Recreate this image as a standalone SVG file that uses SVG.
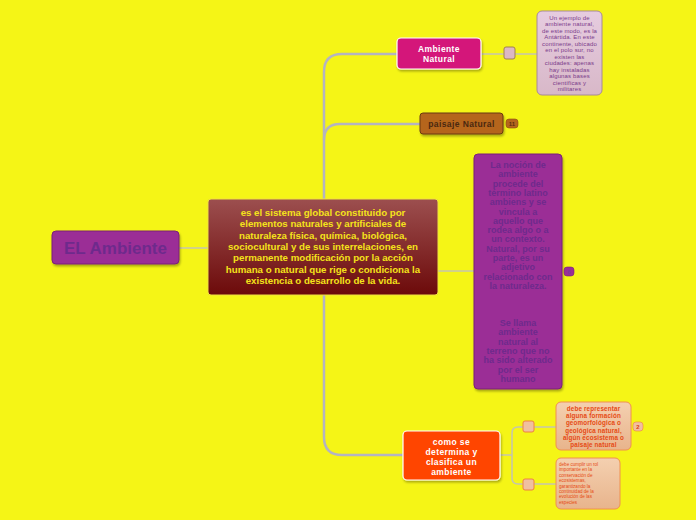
<svg xmlns="http://www.w3.org/2000/svg" width="696" height="520" viewBox="0 0 696 520">
<defs>
<linearGradient id="gCentral" x1="0" y1="0" x2="0" y2="1"><stop offset="0" stop-color="#9c4f4f"/><stop offset="1" stop-color="#6c0a0a"/></linearGradient>
<linearGradient id="gNote" x1="0" y1="0" x2="0" y2="1"><stop offset="0" stop-color="#e6cce0"/><stop offset="1" stop-color="#d8b8c8"/></linearGradient>
<linearGradient id="gOrange" x1="0" y1="0" x2="0" y2="1"><stop offset="0" stop-color="#f4d0b0"/><stop offset="1" stop-color="#e8b48c"/></linearGradient>
<filter id="sh" x="-10%" y="-10%" width="130%" height="130%"><feDropShadow dx="1" dy="2" stdDeviation="1" flood-color="#000" flood-opacity="0.3"/></filter>
</defs>
<style>
text{font-family:"Liberation Sans",Arial,sans-serif;font-weight:bold;text-anchor:middle}
text.n{font-weight:normal}
text.l{font-weight:normal;text-anchor:start}
.con{fill:none;stroke:#c4c4b0;stroke-width:1.5}
.trunk{fill:none;stroke:#b4b4c0;stroke-width:2.5}
.sq{fill:#dcb8c4;stroke:#a08050;stroke-width:1}
.sqo{fill:#f0c0a0;stroke:#f08040;stroke-width:1}
.badge{font-size:6px}
</style>
<rect width="696" height="520" fill="#f5f516"/>
<g id="connectors">
<line class="con" x1="179" y1="248" x2="208" y2="248"/>
<path class="trunk" d="M324 199 V72 Q324 54 342 54 H397"/>
<path class="trunk" d="M324 140 Q324 124 340 124 H420"/>
<path class="con" d="M438 271 H474"/>
<path class="trunk" d="M324 295 V437 Q324 455 342 455 H403"/>
<line class="con" x1="481" y1="54" x2="537" y2="54"/>
<line class="con" x1="500" y1="455" x2="512" y2="455"/>
<path class="con" d="M528 427 H518 Q512 427 512 433 V478 Q512 484 518 484 H528"/>
<line class="con" x1="534" y1="427" x2="556" y2="427"/>
<line class="con" x1="534" y1="484" x2="556" y2="484"/>
</g>
<g id="el-ambiente">
<rect x="52" y="231" width="127" height="33" rx="4" fill="#9b2d96" stroke="#7a2278" filter="url(#sh)"/>
<text x="115.5" y="254" font-size="17" fill="#6e2a8c">EL Ambiente</text>
</g>
<g id="central">
<rect x="208" y="199" width="230" height="96" rx="3" fill="url(#gCentral)" stroke="#f0e040" stroke-width="1"/>
<g font-size="9.7" fill="#f5e31a">
<text x="323" y="216">es el sistema global constituido por</text>
<text x="323" y="227.3">elementos naturales y artificiales de</text>
<text x="323" y="238.6">naturaleza física, química, biológica,</text>
<text x="323" y="249.9">sociocultural y de sus interrelaciones, en</text>
<text x="323" y="261.2">permanente modificación por la acción</text>
<text x="323" y="272.5">humana o natural que rige o condiciona la</text>
<text x="323" y="283.8">existencia o desarrollo de la vida.</text>
</g>
</g>
<g id="ambiente-natural">
<rect x="397" y="38" width="84" height="31" rx="4" fill="#d4187a" stroke="#ffffff" stroke-width="1.2" filter="url(#sh)"/>
<g font-size="8.5" fill="#ffffff" letter-spacing="0.4">
<text x="439" y="51.5">Ambiente</text>
<text x="439" y="61.5">Natural</text>
</g>
</g>
<g id="sq-an"><rect class="sq" x="504" y="47" width="11" height="12" rx="2"/></g>
<g id="note-antartida">
<rect x="537" y="11" width="65" height="84" rx="5" fill="url(#gNote)" stroke="#a88898" stroke-width="1"/>
<g font-size="6" fill="#7a3a8a" letter-spacing="0.15">
<text class="n" x="569.5" y="19.5">Un ejemplo de</text>
<text class="n" x="569.5" y="26">ambiente natural,</text>
<text class="n" x="569.5" y="32.5">de este modo, es la</text>
<text class="n" x="569.5" y="39">Antártida. En este</text>
<text class="n" x="569.5" y="45.5">continente, ubicado</text>
<text class="n" x="569.5" y="52">en el polo sur, no</text>
<text class="n" x="569.5" y="58.5">existen las</text>
<text class="n" x="569.5" y="65">ciudades: apenas</text>
<text class="n" x="569.5" y="71.5">hay instaladas</text>
<text class="n" x="569.5" y="78">algunas bases</text>
<text class="n" x="569.5" y="84.5">científicas y</text>
<text class="n" x="569.5" y="91">militares</text>
</g>
</g>
<g id="paisaje-natural">
<rect x="420" y="113" width="83" height="21" rx="3" fill="#b5651d" stroke="#6a3a10" stroke-width="1" filter="url(#sh)"/>
<text x="461.5" y="127" font-size="8.5" fill="#4a2810" letter-spacing="0.4">paisaje Natural</text>
<rect x="506" y="119" width="12" height="9" rx="3" fill="#b5651d" stroke="#8a4a10" stroke-width="0.6"/>
<text class="badge" x="512" y="126" fill="#5a3010">11</text>
</g>
<g id="nocion">
<rect x="474" y="154" width="88" height="235" rx="4" fill="#9b2d96" stroke="#7a2278" filter="url(#sh)"/>
<g font-size="9" fill="#6e2a8c">
<text x="518" y="168">La noción de</text>
<text x="518" y="177.3">ambiente</text>
<text x="518" y="186.6">procede del</text>
<text x="518" y="195.9">término latino</text>
<text x="518" y="205.2">ambiens y se</text>
<text x="518" y="214.5">vincula a</text>
<text x="518" y="223.8">aquello que</text>
<text x="518" y="233.1">rodea algo o a</text>
<text x="518" y="242.4">un contexto.</text>
<text x="518" y="251.7">Natural, por su</text>
<text x="518" y="261">parte, es un</text>
<text x="518" y="270.3">adjetivo</text>
<text x="518" y="279.6">relacionado con</text>
<text x="518" y="288.9">la naturaleza.</text>
<text x="518" y="326">Se llama</text>
<text x="518" y="335.3">ambiente</text>
<text x="518" y="344.6">natural al</text>
<text x="518" y="353.9">terreno que no</text>
<text x="518" y="363.2">ha sido alterado</text>
<text x="518" y="372.5">por el ser</text>
<text x="518" y="381.8">humano</text>
</g>
<rect x="564" y="267" width="10" height="9" rx="3" fill="#9b2d96" stroke="#7a2278" stroke-width="0.6"/>
<text class="badge" x="569" y="274" fill="#7a3a9a">6</text>
</g>
<g id="como-se">
<rect x="403" y="431" width="97" height="49" rx="4" fill="#ff4500" stroke="#ffffff" stroke-width="1.2" filter="url(#sh)"/>
<g font-size="8.5" fill="#ffffff" letter-spacing="0.4">
<text x="451.5" y="444.5">como se</text>
<text x="451.5" y="454.5">determina y</text>
<text x="451.5" y="464.5">clasifica un</text>
<text x="451.5" y="474.5">ambiente</text>
</g>
</g>
<g id="sq-c1"><rect class="sqo" x="523" y="421" width="11" height="11" rx="2"/></g>
<g id="sq-c2"><rect class="sqo" x="523" y="479" width="11" height="11" rx="2"/></g>
<g id="debe-representar">
<rect x="556" y="402" width="75" height="48" rx="5" fill="url(#gOrange)" stroke="#f09050" stroke-width="1"/>
<g font-size="6.3" fill="#e64a14" letter-spacing="0.15">
<text x="593.5" y="411">debe representar</text>
<text x="593.5" y="418.2">alguna formación</text>
<text x="593.5" y="425.4">geomorfológica o</text>
<text x="593.5" y="432.6">geológica natural,</text>
<text x="593.5" y="439.8">algún ecosistema o</text>
<text x="593.5" y="447">paisaje natural</text>
</g>
<rect x="633" y="422" width="10" height="9" rx="3" fill="#f0c0a0" stroke="#f08040" stroke-width="0.6"/>
<text class="badge" x="638" y="429" fill="#e0400c">2</text>
</g>
<g id="debe-cumplir">
<rect x="556" y="458" width="64" height="51" rx="5" fill="url(#gOrange)" stroke="#f09050" stroke-width="1"/>
<g font-size="4.6" fill="#e64a14">
<text class="l" x="559" y="466">debe cumplir un rol</text>
<text class="l" x="559" y="471.4">importante en la</text>
<text class="l" x="559" y="476.8">conservación de</text>
<text class="l" x="559" y="482.2">ecosistemas,</text>
<text class="l" x="559" y="487.6">garantizando la</text>
<text class="l" x="559" y="493">continuidad de la</text>
<text class="l" x="559" y="498.4">evolución de las</text>
<text class="l" x="559" y="503.8">especies</text>
</g>
</g>
</svg>
